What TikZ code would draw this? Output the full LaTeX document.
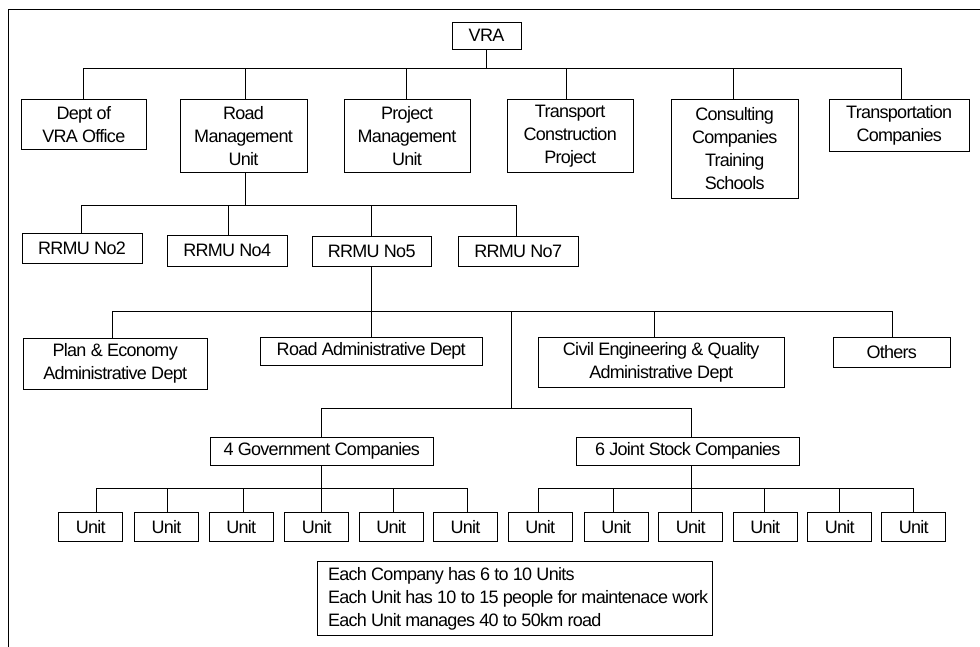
\documentclass[tikz,border=0pt]{standalone}
\usepackage{fontspec}
\setmainfont{Liberation Sans}[LetterSpace=-4]
\begin{document}
\begin{tikzpicture}[x=1pt,y=-1pt,
  box/.style={draw, line width=0.9pt, inner sep=0pt, align=center, font=\fontsize{18}{23}\selectfont},
  ln/.style={line width=0.9pt}]
\useasboundingbox (0,0) rectangle (980,647);
% frame
\coordinate (fa) at (8,647);
\coordinate (fb) at (8,9);
\coordinate (fc) at (980,9);
\draw[ln] (fa) -- (fb) -- (fc);
% level 1
\node[box, minimum width=69pt, minimum height=27pt] (vra) at (486.5,35.5) {VRA};
% level 2
\node[box, minimum width=125.7pt, minimum height=50pt] (dept) at (83.8,124.3) {Dept of\\VRA Office};
\node[box, minimum width=127pt, minimum height=73pt] (rmu) at (243.5,135.8) {Road\\Management\\Unit};
\node[box, minimum width=126pt, minimum height=73pt] (pmu) at (407,135.8) {Project\\Management\\Unit};
\node[box, minimum width=126.3pt, minimum height=73pt] (tcp) at (570.2,135.8) {Transport\\Construction\\Project};
\node[box, minimum width=127.3pt, minimum height=99pt] (cons) at (734.7,148.8) {Consulting\\Companies\\Training\\Schools};
\node[box, minimum width=139.7pt, minimum height=52.4pt] (trc) at (899.2,125.5) {Transportation\\Companies};
% level 3
\node[box, minimum width=120pt, minimum height=30pt] (rr2) at (82,248.3) {RRMU No2};
\node[box, minimum width=119.7pt, minimum height=30.3pt] (rr4) at (227.2,250.8) {RRMU No4};
\node[box, minimum width=118.7pt, minimum height=29.3pt] (rr5) at (371.7,251.3) {RRMU No5};
\node[box, minimum width=119.7pt, minimum height=29.3pt] (rr7) at (518.2,251.3) {RRMU No7};
% level 4
\node[box, minimum width=183.7pt, minimum height=51pt] (ped) at (115.2,363.8) {Plan \& Economy\\Administrative Dept};
\node[box, minimum width=222.3pt, minimum height=28.3pt] (rad) at (371.2,351.2) {Road Administrative Dept};
\node[box, minimum width=245.7pt, minimum height=50pt] (civ) at (661.2,362) {Civil Engineering \& Quality\\Administrative Dept};
\node[box, minimum width=116.7pt, minimum height=30.7pt] (oth) at (891.7,352.3) {Others};
% level 5
\node[box, minimum width=223pt, minimum height=28pt] (gov) at (321.8,451.3) {4 Government Companies};
\node[box, minimum width=222.3pt, minimum height=28pt] (jsc) at (687.8,451.3) {6 Joint Stock Companies};
% units
\foreach \i/\cx in {1/90.8,2/166.5,3/241.2,4/316.8,5/391.3,6/465.5}
  \node[box, minimum width=64pt, minimum height=28.7pt] (g\i) at (\cx,526.7) {Unit};
\foreach \i/\cx in {1/540.2,2/616.3,3/690.8,4/765.2,5/839.7,6/913.8}
  \node[box, minimum width=64pt, minimum height=28.7pt] (j\i) at (\cx,526.7) {Unit};
% note
\node[box, minimum width=395.4pt, minimum height=74pt] (note) at (515,598.7) {};
\node[anchor=west, align=left, inner sep=0pt, font=\fontsize{18}{23}\selectfont] (notetext) at ([xshift=11pt,yshift=-0.5pt]note.west)
  {Each Company has 6 to 10 Units\\Each Unit has 10 to 15 people for maintenace work\\Each Unit manages 40 to 50km road};
% buses
\coordinate (b1) at (486.5,68.3);
\coordinate (b2) at (245.3,205.7);
\coordinate (b3) at (371.7,311.3);
\coordinate (b3x) at (511,311.3);
\coordinate (b4) at (511,408.3);
\coordinate (b5g) at (321.3,488.3);
\coordinate (b5j) at (691.3,488.3);
% VRA tree
\draw[ln] (vra.south) -- (b1);
\draw[ln] ([xshift=-0.8pt]dept.north) -- ([xshift=-0.8pt]dept.north |- b1) -- ([xshift=1.8pt]trc.north |- b1) -- ([xshift=1.8pt]trc.north);
\foreach \n/\s in {rmu/1.8,pmu/-1,tcp/-3.5,cons/-1.4}
  \draw[ln] ([xshift=\s pt]\n.north) -- ([xshift=\s pt]\n.north |- b1);
% RMU tree
\draw[ln] ([xshift=1.8pt]rmu.south) -- (b2);
\draw[ln] ([xshift=-1pt]rr2.north) -- ([xshift=-1pt]rr2.north |- b2) -- ([xshift=-1.5pt]rr7.north |- b2) -- ([xshift=-1.5pt]rr7.north);
\foreach \n/\s in {rr4/1.5}
  \draw[ln] ([xshift=\s pt]\n.north) -- ([xshift=\s pt]\n.north |- b2);
\draw[ln] (rr5.north) -- (rr5.north |- b2);
% RRMU No5 tree
\draw[ln] (rr5.south) -- (b3);
\draw[ln] ([xshift=-2.5pt]ped.north) -- ([xshift=-2.5pt]ped.north |- b3) -- ([xshift=1pt]oth.north |- b3) -- ([xshift=1pt]oth.north);
\draw[ln] (b3) -- (rad.north -| b3);
\draw[ln] ([xshift=-7pt]civ.north) -- ([xshift=-7pt]civ.north |- b3);
% companies
\draw[ln] (b3x) -- (b4);
\draw[ln] ([xshift=-0.5pt]gov.north) -- ([xshift=-0.5pt]gov.north |- b4) -- ([xshift=3.5pt]jsc.north |- b4) -- ([xshift=3.5pt]jsc.north);
% units gov
\draw[ln] ([xshift=-0.5pt]gov.south) -- (g4.north -| b5g);
\draw[ln] ([xshift=5.2pt]g1.north) -- ([xshift=5.2pt]g1.north |- b5g) -- ([xshift=1.8pt]g6.north |- b5g) -- ([xshift=1.8pt]g6.north);
\foreach \n/\s in {g2/0.8,g3/1.8,g5/2.4}
  \draw[ln] ([xshift=\s pt]\n.north) -- ([xshift=\s pt]\n.north |- b5g);
% units jsc
\draw[ln] ([xshift=3.5pt]jsc.south) -- (j3.north -| b5j);
\draw[ln] ([xshift=-1.5pt]j1.north) -- ([xshift=-1.5pt]j1.north |- b5j) -- ([xshift=-0.5pt]j6.north |- b5j) -- ([xshift=-0.5pt]j6.north);
\foreach \n/\s in {j2/-3,j4/-1.2,j5/-0.4}
  \draw[ln] ([xshift=\s pt]\n.north) -- ([xshift=\s pt]\n.north |- b5j);
\end{tikzpicture}
\end{document}
